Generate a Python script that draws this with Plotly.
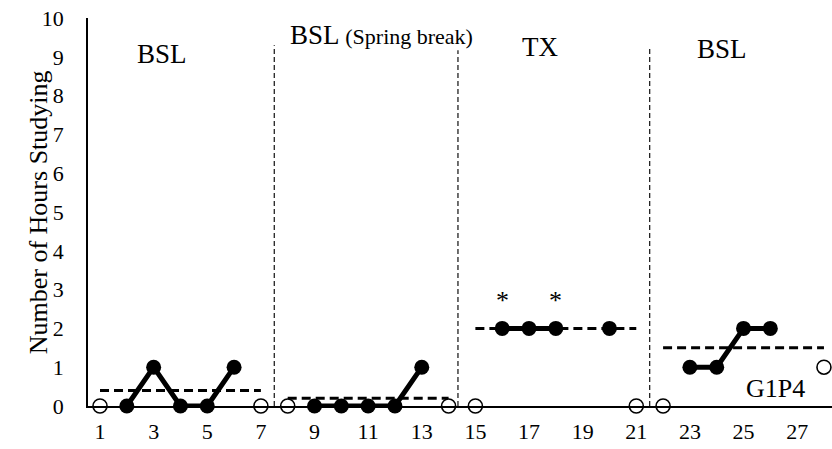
import plotly.graph_objects as go

# Study-hours log: one value per session (None = no session recorded)
sessions = list(range(1, 29))
hours = [0, 0, 1, 0, 0, 1, 0,
         0, 0, 0, 0, 0, 1, 0,
         0, 2, 2, 2, None, 2, 0,
         0, 1, 1, 2, 2, None, 1]
open_sessions = [1, 7, 8, 14, 15, 21, 22, 28]
star_sessions = [16, 18]

phase_labels = ["BSL", "BSL <span style='font-size:22px'>(Spring break)</span>", "TX", "BSL"]
phase_start = [1, 8, 15, 22]
phase_end = [7, 14, 21, 28]
phase_lines = [7.5, 14.35, 21.5]
phase_line_tops = [9.3, 9.17, 9.2]
label_x = [3.33, 11.5, 17.41, 24.2]
label_y = [9.07, 9.55, 9.25, 9.2]

x_ticks = list(range(1, 28, 2))
y_ticks = list(range(0, 11))

FONT = "Liberation Serif, Times New Roman, serif"
value = dict(zip(sessions, hours))

fig = go.Figure()

# phase-change lines
for xv, top in zip(phase_lines, phase_line_tops):
    fig.add_trace(go.Scatter(
        x=[xv, xv], y=[0, top], mode="lines",
        line=dict(color="#222", width=1.3, dash="5px,3px"),
        hoverinfo="skip", showlegend=False))

# phase mean lines (mean of filled sessions in each phase)
for s0, s1 in zip(phase_start, phase_end):
    vals = [value[s] for s in range(s0, s1 + 1)
            if s not in open_sessions and value[s] is not None]
    m = sum(vals) / len(vals)
    fig.add_trace(go.Scatter(
        x=[s0, s1], y=[m, m], mode="lines",
        line=dict(color="black", width=3, dash="9px,5px"),
        hoverinfo="skip", showlegend=False, cliponaxis=False))

# recorded sessions, one connected path per phase
for s0, s1 in zip(phase_start, phase_end):
    xs, ys = [], []
    for s in range(s0, s1 + 1):
        if s in open_sessions:
            continue
        xs.append(s)
        ys.append(value[s])
    while ys and ys[-1] is None:
        xs.pop(); ys.pop()
    fig.add_trace(go.Scatter(
        x=xs, y=ys, mode="lines+markers", connectgaps=False,
        line=dict(color="black", width=5),
        marker=dict(color="black", size=15, line=dict(width=0)),
        showlegend=False, cliponaxis=False))

# open sessions
fig.add_trace(go.Scatter(
    x=open_sessions, y=[value[s] for s in open_sessions], mode="markers",
    marker=dict(color="white", size=14, line=dict(color="black", width=1.6)),
    showlegend=False, cliponaxis=False))

annotations = []
for txt, xv, yv in zip(phase_labels, label_x, label_y):
    annotations.append(dict(x=xv, y=yv, xref="x", yref="y", text=txt,
                            showarrow=False, font=dict(family=FONT, size=27, color="black")))
for s in star_sessions:
    annotations.append(dict(x=s, y=2.72, xref="x", yref="y", text="*",
                            showarrow=False, font=dict(family=FONT, size=26, color="black")))
annotations.append(dict(x=26.2, y=0.46, xref="x", yref="y", text="G1P4",
                        showarrow=False, font=dict(family=FONT, size=26, color="black")))
annotations.append(dict(x=-0.089, y=5.0, xref="paper", yref="y",
                        text="Number of Hours Studying", textangle=-90,
                        showarrow=False, font=dict(family=FONT, size=26, color="black")))

fig.update_layout(
    width=832, height=449,
    margin=dict(l=88, r=0, t=18, b=43),
    paper_bgcolor="white", plot_bgcolor="white",
    font=dict(family=FONT, size=22, color="black"),
    annotations=annotations,
    xaxis=dict(range=[0.552, 28.3], tickvals=x_ticks, showgrid=False, zeroline=False,
               showline=True, linecolor="black", linewidth=1.5, ticks="",
               ticklabelstandoff=5, tickfont=dict(family=FONT, size=22)),
    yaxis=dict(range=[0, 10], tickvals=y_ticks, showgrid=False, zeroline=False,
               showline=True, linecolor="black", linewidth=1.5, ticks="",
               ticklabelstandoff=18, tickfont=dict(family=FONT, size=22)),
)

fig.write_html("out.html")
